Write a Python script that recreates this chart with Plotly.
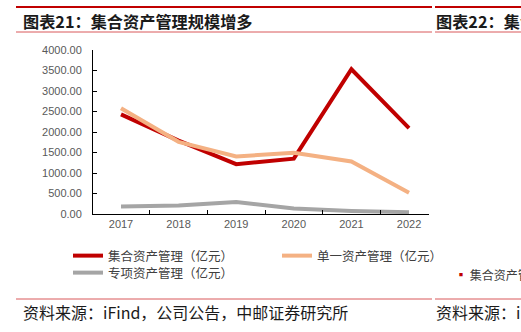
import plotly.graph_objects as go

years = [2017, 2018, 2019, 2020, 2021, 2022]
jihe = [2430, 1790, 1215, 1350, 3530, 2095]
danyi = [2580, 1760, 1405, 1495, 1280, 520]
zhuanxiang = [180, 210, 295, 135, 75, 45]

names = ["集合资产管理（亿元）", "单一资产管理（亿元）", "专项资产管理（亿元）"]
colors = ["#C00000", "#F4B183", "#A5A5A5"]
yticks = [0, 500, 1000, 1500, 2000, 2500, 3000, 3500, 4000]

W, H = 521, 332
L, R, T, B = 93, 92, 50, 118
PW, PH = W - L - R, H - T - B


def px(x):
    return (x - L) / PW


def py(y):
    return (H - B - y) / PH


legend_ids = ["legend", "legend2", "legend3"]
fig = go.Figure()
for name, vals, col, lg in zip(names, [jihe, danyi, zhuanxiang], colors, legend_ids):
    fig.add_trace(go.Scatter(x=years, y=vals, name=name, mode="lines", legend=lg,
                             line=dict(color=col, width=4)))

tickfont = dict(family="Liberation Sans, Arial, sans-serif", size=11, color="#595959")
cjk = "Noto Sans CJK SC, sans-serif"
legfont = dict(family=cjk, size=12.5, color="#404040")


def leg(xpx, ypx):
    return dict(orientation="v", x=px(xpx), y=py(ypx), xanchor="left", yanchor="middle",
                font=legfont, bgcolor="rgba(0,0,0,0)", itemwidth=30)


fig.update_layout(
    width=W, height=H, autosize=False,
    margin=dict(l=L, r=R, t=T, b=B, pad=0),
    paper_bgcolor="white", plot_bgcolor="white",
    showlegend=True,
    legend=leg(68, 256),
    legend2=leg(277, 256),
    legend3=leg(68, 273),
    xaxis=dict(range=[2016.514, 2022.347], tickvals=years, ticktext=[str(y) for y in years],
               ticks="", showgrid=False, zeroline=False, showline=True,
               linecolor="#000000", linewidth=1, tickfont=tickfont,
               minor=dict(tickvals=[2017.5, 2018.5, 2019.5, 2020.5, 2021.5],
                          ticks="inside", ticklen=4, tickcolor="#000000", tickwidth=1)),
    yaxis=dict(range=[0, 4000], tickvals=yticks, tickformat=".2f",
               ticks="inside", ticklen=4, tickcolor="#000000", tickwidth=1,
               showgrid=False, zeroline=False, showline=True,
               linecolor="#000000", linewidth=1, tickfont=tickfont,
               ticklabelstandoff=8),
)

shapes = []
for (x0, x1) in [(16, 432), (435, 521)]:
    shapes.append(dict(type="line", xref="paper", yref="paper", x0=px(x0), x1=px(x1),
                       y0=py(7), y1=py(7), line=dict(color="#C00000", width=2)))
    shapes.append(dict(type="line", xref="paper", yref="paper", x0=px(x0), x1=px(x1),
                       y0=py(32), y1=py(32), line=dict(color="#D9585A", width=1)))
    shapes.append(dict(type="line", xref="paper", yref="paper", x0=px(x0), x1=px(x1),
                       y0=py(299), y1=py(299), line=dict(color="#D9585A", width=1)))
fig.update_layout(shapes=shapes)

annos = [
    dict(text="<b>图表21：集合资产管理规模增多</b>", x=px(21), y=py(21),
         font=dict(family=cjk, size=16.2, color="#1a1a1a")),
    dict(text="<b>图表22：集合资产管理</b>", x=px(434), y=py(21),
         font=dict(family=cjk, size=16.2, color="#1a1a1a")),
    dict(text="资料来源：iFind，公司公告，中邮证券研究所", x=px(21), y=py(312),
         font=dict(family=cjk, size=16, color="#1a1a1a")),
    dict(text="资料来源：iFind", x=px(434), y=py(312),
         font=dict(family=cjk, size=16, color="#1a1a1a")),
    dict(text="<span style='color:#C00000'>▪</span> 集合资产管理", x=px(453), y=py(274),
         font=dict(family=cjk, size=12, color="#404040")),
]
for a in annos:
    a.update(xref="paper", yref="paper", xanchor="left", yanchor="middle", showarrow=False)
fig.update_layout(annotations=annos)

fig.write_html("out.html")
